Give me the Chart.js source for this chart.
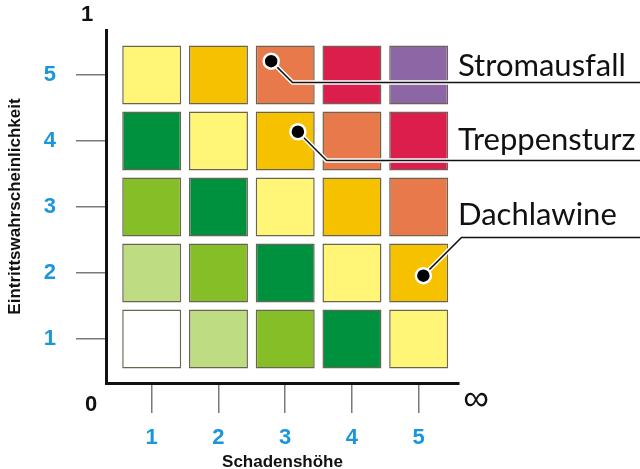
<!DOCTYPE html>
<html>
<head>
<meta charset="utf-8">
<script src="https://cdn.jsdelivr.net/npm/chart.js@4.4.1/dist/chart.umd.min.js"></script>
<style>
  html, body { margin: 0; padding: 0; background: #fff; }
  #wrap { width: 640px; height: 469px; }
</style>
</head>
<body>
<div id="wrap"><canvas id="risikoChart" width="640" height="469"></canvas></div>
<script>
// Achsen: Schadenshöhe (x) und Eintrittswahrscheinlichkeit (y)
const schadensStufen = [1, 2, 3, 4, 5];
const wahrscheinlichkeitStufen = [1, 2, 3, 4, 5];

// Risikostufe je Zelle: Zeile = Wahrscheinlichkeit 1..5, Spalte = Schaden 1..5
const risikoMatrix = [
    [0, 1, 2, 3, 4],
    [1, 2, 3, 4, 5],
    [2, 3, 4, 5, 6],
    [3, 4, 5, 6, 7],
    [4, 5, 6, 7, 8]
];

// Eingetragene Risiken (Schaden / Wahrscheinlichkeit)
const risiken = ['Stromausfall', 'Treppensturz', 'Dachlawine'];
const risikoSchaden = [2.79, 3.19, 5.07];
const risikoWahrsch = [5.21, 4.14, 1.96];
// Höhe der Hinweislinie (y-Wert)
const hinweisHoehe = [4.89, 3.71, 2.55];

// Farben der Risikostufen 0..8
const STUFEN_FARBEN = ['#ffffff', '#bedd82', '#86be28', '#00913f', '#fff677', '#f6c200', '#e8794a', '#db1e4b', '#8d67a5'];
const BLAU = '#1b96dc';
const SCHRIFT = '"Liberation Sans", Arial, sans-serif';
const ZELLE_HALB = 0.447;
const TEXT_ABSTAND = [6, 10, 12];

const zellen = [];
const zellFarben = [];
wahrscheinlichkeitStufen.forEach((w, r) => {
    schadensStufen.forEach((s, c) => {
        zellen.push({ x: s, y: [w - ZELLE_HALB, w + ZELLE_HALB] });
        zellFarben.push(STUFEN_FARBEN[risikoMatrix[r][c]]);
    });
});
const punkte = risiken.map((_, i) => ({ x: risikoSchaden[i], y: risikoWahrsch[i] }));

// Hinweislinien, Beschriftungen und Achsenenden
const hinweisPlugin = {
    id: 'hinweise',
    afterDatasetDraw(chart, args) {
        if (args.meta.type !== 'bar') return;
        const { ctx, scales: { x, y } } = chart;
        risiken.forEach((name, i) => {
            const px = x.getPixelForValue(risikoSchaden[i]);
            const py = y.getPixelForValue(risikoWahrsch[i]);
            const ly = Math.round(y.getPixelForValue(hinweisHoehe[i])) + 0.5;
            const ex = px + Math.abs(ly - py);
            ctx.save();
            [['#ffffff', 4.5], ['#111111', 1.5]].forEach(([farbe, breite]) => {
                ctx.beginPath();
                ctx.moveTo(px, py);
                ctx.lineTo(ex, ly);
                ctx.lineTo(chart.width, ly);
                ctx.strokeStyle = farbe;
                ctx.lineWidth = breite;
                ctx.stroke();
            });
            ctx.restore();
        });
    },
    afterDraw(chart) {
        const { ctx, chartArea: a, scales: { y } } = chart;
        ctx.save();
        ctx.fillStyle = '#111';
        ctx.textAlign = 'left';
        ctx.textBaseline = 'alphabetic';
        ctx.font = '31px Lato, sans-serif';
        risiken.forEach((name, i) => {
            const ly = Math.round(y.getPixelForValue(hinweisHoehe[i]));
            ctx.fillText(name, a.right - 1, ly - TEXT_ABSTAND[i]);
        });
        ctx.textAlign = 'center';
        ctx.textBaseline = 'middle';
        ctx.font = 'bold 22px ' + SCHRIFT;
        ctx.fillText('1', a.left - 19, a.top - 15);
        ctx.fillText('0', a.left - 15, a.bottom + 22);
        ctx.font = '36px ' + SCHRIFT;
        ctx.fillText('∞', a.right + 17, a.bottom + 17);
        ctx.restore();
    }
};

new Chart(document.getElementById('risikoChart'), {
    type: 'bar',
    data: {
        datasets: [
            {
                type: 'scatter',
                data: punkte,
                order: 1,
                pointRadius: 7.5,
                pointBackgroundColor: '#000',
                pointBorderColor: '#fff',
                pointBorderWidth: 2.5
            },
            {
                data: zellen,
                order: 2,
                backgroundColor: zellFarben,
                borderColor: '#6a6553',
                borderWidth: 1.5,
                borderSkipped: false,
                grouped: false,
                barPercentage: 0.884,
                categoryPercentage: 1
            }
        ]
    },
    options: {
        responsive: false,
        animation: false,
        events: [],
        layout: { padding: { left: 0, top: 30, right: 181, bottom: 0 } },
        plugins: { legend: { display: false }, tooltip: { enabled: false } },
        scales: {
            x: {
                type: 'linear',
                min: 0.315,
                max: 5.604,
                offset: false,
                afterFit: s => { s.height = 86; s.paddingLeft = 0; s.paddingRight = 0; },
                afterBuildTicks: s => { s.ticks = schadensStufen.map(v => ({ value: v })); },
                grid: { offset: false, drawOnChartArea: false, tickLength: 30, color: '#7a7a7a', lineWidth: 1.5 },
                border: { color: '#111', width: 3 },
                ticks: { color: BLAU, font: { family: SCHRIFT, size: 22, weight: 'bold' }, padding: 12, maxRotation: 0 },
                title: {
                    display: true, text: 'Schadenshöhe', color: '#111',
                    font: { family: SCHRIFT, size: 17, weight: 'bold' },
                    padding: { top: 0, bottom: -4 }
                }
            },
            y: {
                type: 'linear',
                min: 0.333,
                max: 5.682,
                beginAtZero: false,
                afterFit: s => { s.width = 106; s.paddingTop = 0; s.paddingBottom = 0; },
                afterBuildTicks: s => { s.ticks = wahrscheinlichkeitStufen.map(v => ({ value: v })); },
                grid: { drawOnChartArea: false, tickLength: 30, color: '#7a7a7a', lineWidth: 1.5 },
                border: { color: '#111', width: 3 },
                ticks: { color: BLAU, font: { family: SCHRIFT, size: 22, weight: 'bold' }, padding: 20 },
                title: {
                    display: true, text: 'Eintrittswahrscheinlichkeit', color: '#111',
                    font: { family: SCHRIFT, size: 17, weight: 'bold' },
                    padding: { top: 5, bottom: 0 }
                }
            }
        }
    },
    plugins: [hinweisPlugin]
});
</script>
</body>
</html>
